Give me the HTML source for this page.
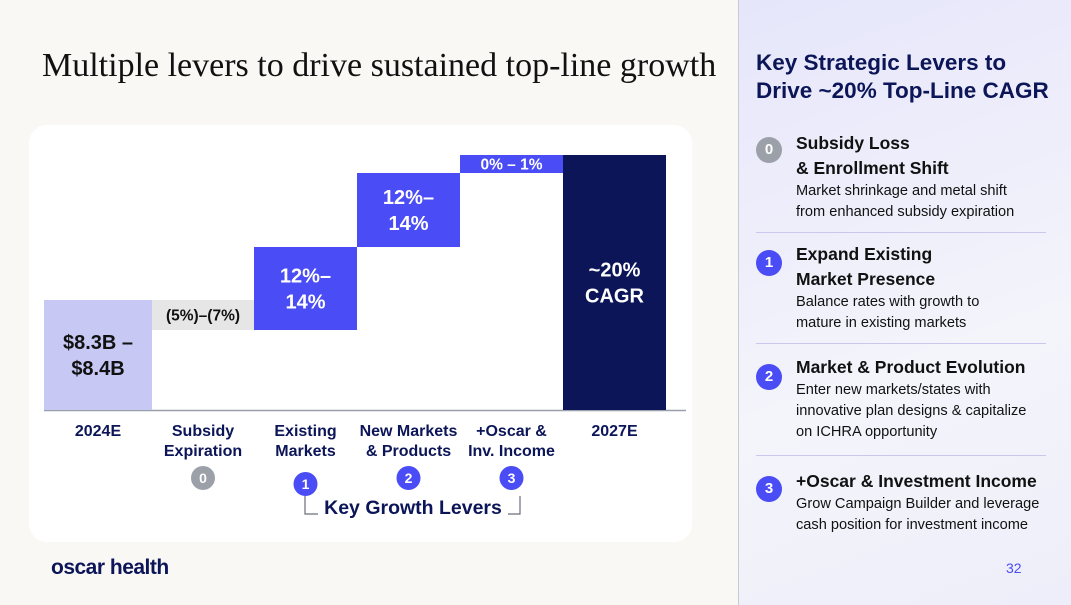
<!DOCTYPE html>
<html><head><meta charset="utf-8"><style>
body{margin:0;width:1071px;height:605px;overflow:hidden;background:#f9f8f5;font-family:"Liberation Sans",sans-serif;position:relative}
.title{position:absolute;left:42px;top:47px;font-family:"Liberation Serif",serif;font-size:34px;color:#111;white-space:nowrap}
.card{position:absolute;left:29px;top:125px;width:663px;height:417px;background:#fff;border-radius:18px}
.side{position:absolute;left:738px;top:0;width:333px;height:605px;background:linear-gradient(160deg,#e6e6fb,#f4f4fb 60%,#eeeefa);border-left:1px solid #c9c9d4}
.side h2{margin:0;position:absolute;left:17px;top:49px;font-size:22.5px;line-height:28px;color:#0b1557;font-weight:bold;white-space:nowrap}
.item{position:absolute;left:57px;width:270px;color:#111}
.item b{font-size:17.5px;line-height:25px;display:block;white-space:nowrap}
.item span{font-size:14.6px;line-height:21px;display:block;white-space:nowrap}
.num{position:absolute;left:17px;width:26px;height:26px;border-radius:50%;color:#fff;font-weight:bold;font-size:15px;text-align:center;line-height:26px}
.sep{position:absolute;left:17px;width:290px;border-top:1px solid #c8c8ee}
.logo{position:absolute;left:51px;top:556px;font-size:21px;font-weight:bold;color:#0b1557;letter-spacing:-0.5px}
.pg{position:absolute;left:1006px;top:560px;font-size:14px;color:#4a4cf5}
</style></head><body>
<div class="title">Multiple levers to drive sustained top-line growth</div>
<div class="card"></div>
<svg id="chart" width="738" height="605" style="position:absolute;left:0;top:0"></svg>
<div class="side">
<h2>Key Strategic Levers to<br>Drive ~20% Top-Line CAGR</h2>
<div class="num" style="top:137px;background:#9ca0a8">0</div>
<div class="item" style="top:131px"><b>Subsidy Loss<br>&amp; Enrollment Shift</b><span>Market shrinkage and metal shift<br>from enhanced subsidy expiration</span></div>
<div class="sep" style="top:232px"></div>
<div class="num" style="top:250px;background:#4a4cf5">1</div>
<div class="item" style="top:242px"><b>Expand Existing<br>Market Presence</b><span>Balance rates with growth to<br>mature in existing markets</span></div>
<div class="sep" style="top:343px"></div>
<div class="num" style="top:364px;background:#4a4cf5">2</div>
<div class="item" style="top:355px"><b>Market &amp; Product Evolution</b><span>Enter new markets/states with<br>innovative plan designs &amp; capitalize<br>on ICHRA opportunity</span></div>
<div class="sep" style="top:455px"></div>
<div class="num" style="top:476px;background:#4a4cf5">3</div>
<div class="item" style="top:469px"><b>+Oscar &amp; Investment Income</b><span>Grow Campaign Builder and leverage<br>cash position for investment income</span></div>
</div>
<div class="logo">oscar health</div>
<div class="pg">32</div>
<script>
const categories=[["2024E"],["Subsidy","Expiration"],["Existing","Markets"],["New Markets","& Products"],["+Oscar &","Inv. Income"],["2027E"]];
const deltas=[110,-30,83,74,18,255];
const kinds=["total","delta","delta","delta","delta","total"];
const valueLabels=[["$8.3B –","$8.4B"],["(5%)–(7%)"],["12%–","14%"],["12%–","14%"],["0% – 1%"],["~20%","CAGR"]];
const badges=[null,"0","1","2","3",null];
const fills=["#c8c8f5","#e6e6e6","#4a4cf5","#4a4cf5","#4a4cf5","#0b1557"];
const textCol=["#111","#111","#fff","#fff","#fff","#fff"];
const NS="http://www.w3.org/2000/svg",svg=document.getElementById('chart');
const base=410;
const y=v=>base-v;
function mk(t,a){const e=document.createElementNS(NS,t);for(const k in a)e.setAttribute(k,a[k]);svg.appendChild(e);return e;}
const axis=mk('line',{x1:44,x2:686,y1:410.5,y2:410.5,stroke:'#9aa0aa','stroke-width':1.5});


let run=0;
const bx=[44,152,254,357,460,563],bws=[108,102,103,103,103,103];
deltas.forEach((d,i)=>{
 let lo,hi;
 if(kinds[i]=="total"){lo=0;hi=d;run=d;}else{lo=Math.min(run,run+d);hi=Math.max(run,run+d);run+=d;}
 const r=mk('rect',{x:bx[i],y:y(hi),width:bws[i],height:hi-lo,fill:fills[i]});
 
 
 const cx=bx[i]+bws[i]/2,lines=valueLabels[i],cy=(y(hi)+y(lo))/2,lh=lines.length>1?26:0;
 const fs=lines.length>1?20:15.5;
 lines.forEach((s,k)=>{const t=mk('text',{x:cx,y:cy-lh/2+k*lh+fs*0.36,'text-anchor':'middle','font-size':fs,'font-weight':'bold',fill:textCol[i],'font-family':'Liberation Sans,sans-serif'});t.textContent=s;
 
 });
 categories[i].forEach((s,k)=>{const t=mk('text',{x:cx,y:436+k*20,'text-anchor':'middle','font-size':16,'font-weight':'bold',fill:'#0b1557','font-family':'Liberation Sans,sans-serif'});t.textContent=s;
 
 });
 if(badges[i]!=null){const by=[null,478,484,478,478][i];
 const c=mk('circle',{cx:cx,cy:by,r:12,fill:badges[i]=="0"?'#9ca0a8':'#4a4cf5'});
 
 
 const t=mk('text',{x:cx,y:by+5,'text-anchor':'middle','font-size':14,'font-weight':'bold',fill:'#fff','font-family':'Liberation Sans,sans-serif'});t.textContent=badges[i];
 
 }
});
const br=mk('path',{d:'M305 496 V514 H318 M508 514 H520 V496',fill:'none',stroke:'#6b6f78','stroke-width':1.2});


const kt=mk('text',{x:413,y:514,'text-anchor':'middle','font-size':19.5,'font-weight':'bold',fill:'#0b1557','font-family':'Liberation Sans,sans-serif'});kt.textContent='Key Growth Levers';


</script>
</body></html>
